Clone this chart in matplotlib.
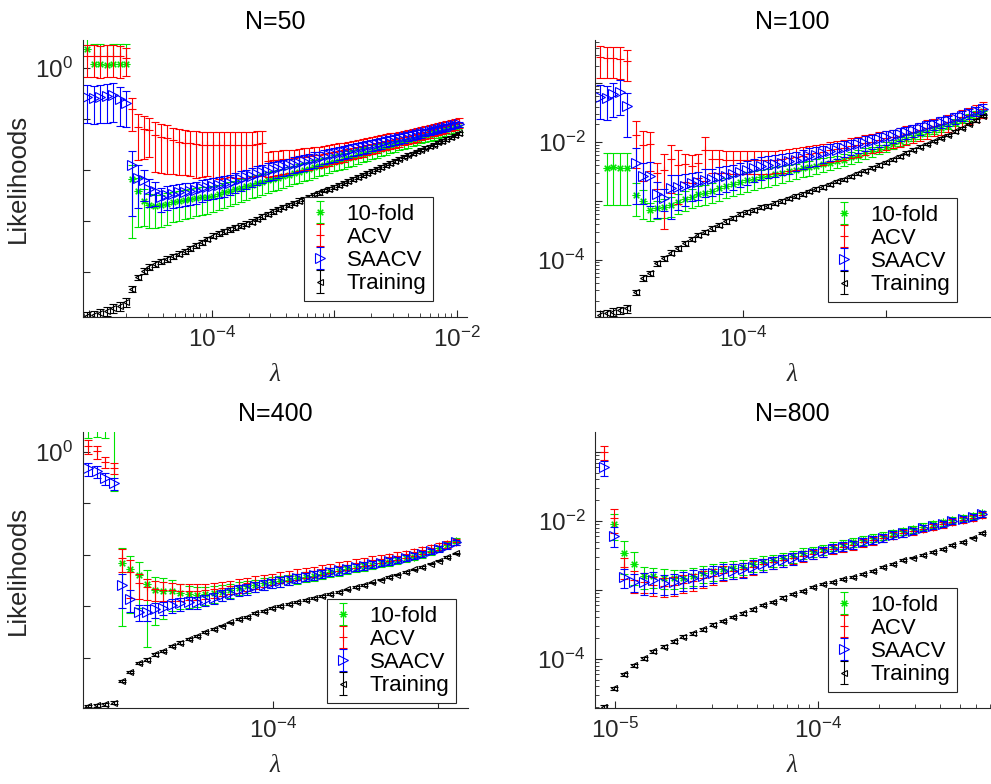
import numpy as np
import matplotlib
matplotlib.use("Agg")
import matplotlib.pyplot as plt
from matplotlib.ticker import LogLocator, NullLocator, NullFormatter

plt.rcParams['font.family'] = ['Liberation Sans', 'DejaVu Sans']
plt.rcParams['mathtext.fontset'] = 'custom'
plt.rcParams['mathtext.rm'] = 'Liberation Sans'
plt.rcParams['mathtext.it'] = 'Liberation Sans:italic'
plt.rcParams['mathtext.bf'] = 'Liberation Sans:bold'

nan = float('nan')
series_names = ['10-fold', 'ACV', 'SAACV', 'Training']
titles = ['N=50', 'N=100', 'N=400', 'N=800']

# ---------------- N=50 (all values are log10) ----------------
lam50_log10 = [-5.020, -4.967, -4.914, -4.861, -4.808, -4.755, -4.702, -4.657,
 -4.608, -4.559, -4.511, -4.462, -4.414, -4.366, -4.319, -4.271, -4.224, -4.176,
 -4.130, -4.084, -4.038, -3.991, -3.945, -3.900, -3.855, -3.810, -3.765, -3.720,
 -3.676, -3.633, -3.589, -3.545, -3.502, -3.459, -3.417, -3.375, -3.332, -3.290,
 -3.249, -3.208, -3.167, -3.126, -3.085, -3.045, -3.005, -2.965, -2.926, -2.886,
 -2.847, -2.809, -2.770, -2.732, -2.693, -2.656, -2.618, -2.581, -2.544, -2.506,
 -2.470, -2.434, -2.398, -2.362, -2.326, -2.291, -2.257, -2.222, -2.187, -2.153,
 -2.119, -2.086, -2.052, -2.019, -1.985]
kfold50 = [0.37, 0.07, 0.07, 0.06, 0.07, 0.07, 0.07, -2.18,
 -2.41, -2.60, -2.69, -2.70, -2.69, -2.66, -2.63, -2.61, -2.59, -2.57,
 -2.55, -2.53, -2.52, -2.50, -2.47, -2.44, -2.41, -2.38, -2.35, -2.32,
 -2.29, -2.26, -2.23, -2.20, -2.17, -2.15, -2.12, -2.09, -2.06, -2.03,
 -2.00, -1.98, -1.95, -1.92, -1.90, -1.87, -1.84, -1.82, -1.79, -1.76,
 -1.74, -1.71, -1.68, -1.66, -1.63, -1.61, -1.58, -1.56, -1.53, -1.51,
 -1.48, -1.46, -1.44, -1.41, -1.39, -1.36, -1.34, -1.32, -1.30, -1.27,
 -1.25, -1.23, -1.20, -1.18, -1.16]
kfold50_rel = [1.5, 1.5, 1.5, 1.5, 1.5, 1.5, 1.5, 0.93,
 0.80, 0.68, 0.65, 0.63, 0.62, 0.61, 0.60, 0.59, 0.58, 0.57,
 0.56, 0.55, 0.54, 0.53, 0.52, 0.51, 0.50, 0.49, 0.48, 0.47,
 0.46, 0.45, 0.45, 0.44, 0.43, 0.42, 0.41, 0.41, 0.40, 0.40,
 0.39, 0.38, 0.38, 0.37, 0.37, 0.36, 0.35, 0.35, 0.34, 0.34,
 0.33, 0.32, 0.32, 0.31, 0.31, 0.30, 0.29, 0.29, 0.28, 0.28,
 0.27, 0.26, 0.26, 0.25, 0.25, 0.24, 0.23, 0.23, 0.22, 0.22,
 0.21, 0.20, 0.20, 0.19, 0.19]
acv50 = [0.24, 0.24, 0.23, 0.24, 0.24, 0.23, 0.20, -0.80,
 -1.15, -1.19, -1.22, -1.31, -1.35, -1.37, -1.42, -1.45, -1.47, -1.48,
 -1.49, -1.50, -1.50, -1.51, -1.51, -1.51, -1.51, -1.51, -1.51, -1.50,
 -1.50, -1.49, -1.48, -1.82, -1.81, -1.80, -1.79, -1.78, -1.77, -1.75,
 -1.74, -1.73, -1.71, -1.70, -1.69, -1.67, -1.65, -1.63, -1.61, -1.59,
 -1.57, -1.55, -1.53, -1.51, -1.49, -1.47, -1.45, -1.43, -1.41, -1.39,
 -1.37, -1.35, -1.33, -1.31, -1.29, -1.27, -1.25, -1.22, -1.20, -1.18,
 -1.16, -1.14, -1.12, -1.09, -1.07]
acv50_rel = [0.62, 0.62, 0.62, 0.62, 0.62, 0.62, 0.57, 0.64,
 0.78, 0.75, 0.70, 0.81, 0.80, 0.80, 0.78, 0.77, 0.76, 0.77,
 0.78, 0.77, 0.76, 0.77, 0.78, 0.77, 0.76, 0.77, 0.77, 0.78,
 0.77, 0.76, 0.77, 0.51, 0.50, 0.50, 0.49, 0.48, 0.48, 0.47,
 0.46, 0.46, 0.45, 0.44, 0.44, 0.43, 0.42, 0.42, 0.41, 0.40,
 0.40, 0.39, 0.38, 0.37, 0.37, 0.36, 0.35, 0.35, 0.34, 0.33,
 0.33, 0.32, 0.31, 0.31, 0.30, 0.29, 0.29, 0.28, 0.27, 0.27,
 0.26, 0.25, 0.25, 0.24, 0.23]
saacv50 = [-0.56, -0.58, -0.56, -0.55, -0.53, -0.61, -0.68, -1.90,
 -2.15, -2.20, -2.37, -2.41, -2.53, -2.49, -2.47, -2.44, -2.43, -2.41,
 -2.39, -2.36, -2.33, -2.32, -2.30, -2.28, -2.25, -2.22, -2.18, -2.14,
 -2.11, -2.07, -2.04, -2.01, -1.98, -1.96, -1.93, -1.91, -1.88, -1.86,
 -1.83, -1.81, -1.78, -1.76, -1.73, -1.71, -1.69, -1.66, -1.64, -1.62,
 -1.59, -1.57, -1.55, -1.53, -1.51, -1.49, -1.47, -1.44, -1.42, -1.40,
 -1.38, -1.36, -1.34, -1.32, -1.30, -1.28, -1.26, -1.24, -1.22, -1.20,
 -1.18, -1.16, -1.14, -1.12, -1.10]
saacv50_rel = [0.70, 0.70, 0.70, 0.70, 0.70, 0.70, 0.66, 0.90,
 0.75, 0.60, 0.55, 0.50, 0.50, 0.49, 0.48, 0.48, 0.47, 0.46,
 0.46, 0.45, 0.45, 0.44, 0.44, 0.43, 0.43, 0.42, 0.42, 0.41,
 0.40, 0.39, 0.39, 0.38, 0.38, 0.37, 0.36, 0.36, 0.35, 0.35,
 0.34, 0.33, 0.33, 0.32, 0.31, 0.31, 0.30, 0.29, 0.29, 0.28,
 0.28, 0.27, 0.26, 0.26, 0.25, 0.24, 0.24, 0.23, 0.22, 0.22,
 0.21, 0.21, 0.20, 0.19, 0.19, 0.18, 0.17, 0.17, 0.16, 0.15,
 0.15, 0.14, 0.13, 0.13, 0.12]
train50 = [-4.86, -4.84, -4.80, -4.76, -4.71, -4.66, -4.58, -4.33,
 -4.10, -3.98, -3.90, -3.84, -3.79, -3.74, -3.69, -3.64, -3.59, -3.53,
 -3.47, -3.41, -3.35, -3.29, -3.24, -3.20, -3.16, -3.12, -3.09, -3.05,
 -3.01, -2.96, -2.91, -2.86, -2.81, -2.76, -2.72, -2.68, -2.64, -2.60,
 -2.56, -2.52, -2.48, -2.44, -2.40, -2.37, -2.33, -2.29, -2.25, -2.21,
 -2.17, -2.14, -2.10, -2.06, -2.02, -1.98, -1.94, -1.90, -1.86, -1.82,
 -1.78, -1.74, -1.70, -1.67, -1.63, -1.60, -1.56, -1.53, -1.50, -1.46,
 -1.43, -1.39, -1.36, -1.32, -1.28]
train50_rel = [0.20, 0.20, 0.20, 0.20, 0.20, 0.20, 0.20, 0.15,
 0.12, 0.12, 0.12, 0.12, 0.12, 0.12, 0.12, 0.12, 0.12, 0.12,
 0.11, 0.11, 0.11, 0.11, 0.11, 0.11, 0.11, 0.11, 0.11, 0.11,
 0.10, 0.10, 0.10, 0.10, 0.10, 0.10, 0.10, 0.10, 0.10, 0.10,
 0.09, 0.09, 0.09, 0.09, 0.09, 0.09, 0.09, 0.09, 0.09, 0.09,
 0.08, 0.08, 0.08, 0.08, 0.08, 0.08, 0.08, 0.08, 0.08, 0.08,
 0.07, 0.07, 0.07, 0.07, 0.07, 0.07, 0.07, 0.07, 0.07, 0.07,
 0.07, 0.07, 0.07, 0.07, 0.07]

# ---------------- N=100 ----------------
lam100_log10 = [-5.000, -4.953, -4.907, -4.860, -4.813,
 -4.748, -4.700, -4.651, -4.603, -4.554, -4.506, -4.457, -4.409, -4.360, -4.312,
 -4.263, -4.215, -4.166, -4.118, -4.069, -4.021, -3.972, -3.924, -3.875, -3.827,
 -3.778, -3.730, -3.681, -3.633, -3.584, -3.536, -3.487, -3.439, -3.390, -3.342,
 -3.293, -3.245, -3.196, -3.148, -3.099, -3.051, -3.002, -2.954, -2.905, -2.857,
 -2.808, -2.760, -2.711, -2.663, -2.614, -2.566, -2.517, -2.469, -2.420, -2.372,
 -2.323]
kfold100 = [nan, -2.44, -2.43, -2.44, -2.44,
 -2.90, -3.00, -3.16, -3.13, -3.10, -3.07, -3.02, -2.97, -2.93, -2.89,
 -2.87, -2.84, -2.79, -2.75, -2.71, -2.68, -2.65, -2.63, -2.60, -2.58,
 -2.55, -2.53, -2.50, -2.48, -2.45, -2.43, -2.40, -2.38, -2.35, -2.33,
 -2.30, -2.26, -2.23, -2.19, -2.16, -2.12, -2.08, -2.04, -1.99, -1.95,
 -1.91, -1.87, -1.83, -1.80, -1.76, -1.72, -1.67, -1.62, -1.58, -1.53,
 -1.48]
kfold100_rel = [0.77, 0.77, 0.77, 0.77, 0.77,
 0.57, 0.50, 0.35, 0.35, 0.37, 0.37, 0.37, 0.37, 0.37, 0.37,
 0.37, 0.37, 0.38, 0.38, 0.38, 0.38, 0.37, 0.36, 0.35, 0.34,
 0.33, 0.32, 0.31, 0.30, 0.29, 0.28, 0.27, 0.26, 0.25, 0.24,
 0.23, 0.22, 0.22, 0.21, 0.20, 0.19, 0.18, 0.18, 0.17, 0.16,
 0.16, 0.15, 0.15, 0.14, 0.14, 0.13, 0.13, 0.12, 0.12, 0.12,
 0.12]
acv100 = [-0.56, -0.57, -0.57, -0.58, -0.63,
 -1.88, -2.05, -2.04, -2.53, -2.48, -2.29, -2.39, -2.38, -2.40, -2.36,
 -2.14, -2.29, -2.29, -2.30, -2.30, -2.30, -2.31, -2.31, -2.31, -2.31,
 -2.30, -2.29, -2.27, -2.25, -2.23, -2.21, -2.19, -2.17, -2.14, -2.12,
 -2.10, -2.07, -2.05, -2.02, -2.00, -1.97, -1.94, -1.92, -1.89, -1.86,
 -1.83, -1.80, -1.76, -1.73, -1.70, -1.66, -1.62, -1.58, -1.54, -1.49,
 -1.43]
acv100_rel = [0.55, 0.55, 0.55, 0.55, 0.54,
 0.73, 0.76, 0.65, 0.47, 0.90, 0.74, 0.78, 0.50, 0.50, 0.45,
 0.70, 0.41, 0.42, 0.41, 0.42, 0.43, 0.42, 0.41, 0.42, 0.41,
 0.40, 0.41, 0.40, 0.40, 0.40, 0.39, 0.39, 0.39, 0.38, 0.38,
 0.38, 0.37, 0.37, 0.37, 0.36, 0.36, 0.36, 0.35, 0.35, 0.35,
 0.34, 0.34, 0.34, 0.33, 0.33, 0.33, 0.32, 0.32, 0.31, 0.31,
 0.30]
saacv100 = [-1.23, -1.25, -1.19, -1.15, -1.39,
 -2.36, -2.58, -2.57, -2.89, -2.95, -2.79, -2.76, -2.74, -2.70, -2.68,
 -2.64, -2.63, -2.60, -2.57, -2.55, -2.51, -2.48, -2.44, -2.41, -2.39,
 -2.37, -2.35, -2.33, -2.30, -2.27, -2.24, -2.22, -2.19, -2.16, -2.13,
 -2.10, -2.07, -2.04, -2.01, -1.98, -1.95, -1.92, -1.89, -1.86, -1.83,
 -1.80, -1.77, -1.73, -1.70, -1.66, -1.63, -1.59, -1.55, -1.51, -1.47,
 -1.43]
saacv100_rel = [0.58, 0.58, 0.58, 0.60, 0.70,
 0.80, 0.67, 0.70, 0.60, 0.40, 0.70, 0.60, 0.55, 0.50, 0.50,
 0.50, 0.49, 0.48, 0.47, 0.46, 0.45, 0.44, 0.43, 0.42, 0.41,
 0.40, 0.39, 0.38, 0.37, 0.36, 0.35, 0.34, 0.33, 0.32, 0.31,
 0.30, 0.29, 0.29, 0.28, 0.27, 0.26, 0.26, 0.25, 0.24, 0.24,
 0.23, 0.22, 0.22, 0.21, 0.21, 0.20, 0.20, 0.19, 0.19, 0.18,
 0.18]
train100 = [-4.94, -4.91, -4.89, -4.86, -4.83,
 -4.55, -4.31, -4.23, -4.06, -3.98, -3.88, -3.81, -3.72, -3.65, -3.58,
 -3.53, -3.47, -3.41, -3.35, -3.29, -3.23, -3.19, -3.15, -3.11, -3.08,
 -3.04, -3.00, -2.96, -2.92, -2.88, -2.84, -2.80, -2.76, -2.72, -2.67,
 -2.63, -2.58, -2.53, -2.49, -2.44, -2.39, -2.34, -2.29, -2.24, -2.18,
 -2.13, -2.08, -2.03, -1.98, -1.93, -1.88, -1.82, -1.76, -1.69, -1.63,
 -1.56]
train100_rel = [0.15, 0.15, 0.15, 0.15, 0.15,
 0.10, 0.10, 0.10, 0.09, 0.09, 0.09, 0.09, 0.09, 0.09, 0.09,
 0.08, 0.08, 0.08, 0.08, 0.08, 0.08, 0.08, 0.08, 0.08, 0.08,
 0.07, 0.07, 0.07, 0.07, 0.07, 0.07, 0.07, 0.07, 0.07, 0.07,
 0.06, 0.06, 0.06, 0.06, 0.06, 0.06, 0.06, 0.06, 0.06, 0.06,
 0.05, 0.05, 0.05, 0.05, 0.05, 0.05, 0.05, 0.05, 0.05, 0.05,
 0.05]

# ---------------- N=400 ----------------
lam400_log10 = [-5.119, -5.068, -5.018, -4.967, -4.917, -4.866, -4.815, -4.765, -4.714, -4.664,
 -4.613, -4.562, -4.512, -4.461, -4.411, -4.360, -4.309, -4.259, -4.208, -4.158,
 -4.107, -4.056, -4.006, -3.955, -3.905, -3.854, -3.803, -3.753, -3.702, -3.652,
 -3.601, -3.550, -3.500, -3.449, -3.399, -3.348, -3.297, -3.247, -3.196, -3.146,
 -3.095, -3.044, -2.994, -2.943, -2.893]
kfold400 = [0.55, 0.56, 0.55, 0.55,
 -2.16, -2.28, -2.38, -2.57, -2.68, -2.69, -2.69, -2.74, -2.76, -2.78,
 -2.76, -2.74, -2.71, -2.68, -2.64, -2.61, -2.58, -2.55, -2.53, -2.50,
 -2.48, -2.45, -2.42, -2.40, -2.37, -2.34, -2.31, -2.28, -2.25, -2.22,
 -2.19, -2.16, -2.13, -2.10, -2.06, -2.03, -1.99, -1.93, -1.87, -1.80, -1.72]
kfold400_rel = [0.47, 0.47, 0.47, 0.95,
 0.94, 0.86, 0.78, 0.94, 0.79, 0.72, 0.60, 0.50, 0.45, 0.42,
 0.38, 0.35, 0.33, 0.30, 0.28, 0.27, 0.26, 0.25, 0.24, 0.23,
 0.22, 0.22, 0.21, 0.21, 0.20, 0.20, 0.19, 0.19, 0.18, 0.18,
 0.17, 0.17, 0.16, 0.16, 0.15, 0.15, 0.14, 0.14, 0.13, 0.13, 0.12]
acv400 = [0.12, 0.01, -0.19, -0.31,
 -2.05, -2.33, -2.55, -2.62, -2.66, -2.68, -2.68, -2.69, -2.69, -2.69,
 -2.68, -2.66, -2.64, -2.61, -2.58, -2.55, -2.52, -2.49, -2.46, -2.43,
 -2.40, -2.37, -2.34, -2.31, -2.28, -2.25, -2.22, -2.19, -2.16, -2.13,
 -2.10, -2.07, -2.04, -2.01, -1.98, -1.95, -1.91, -1.87, -1.83, -1.79, -1.74]
acv400_rel = [0.30, 0.28, 0.25, 0.25,
 0.47, 0.69, 0.50, 0.45, 0.42, 0.40, 0.38, 0.36, 0.35, 0.34,
 0.33, 0.32, 0.31, 0.30, 0.29, 0.28, 0.27, 0.26, 0.25, 0.24,
 0.23, 0.23, 0.22, 0.22, 0.21, 0.21, 0.20, 0.20, 0.19, 0.19,
 0.18, 0.18, 0.17, 0.17, 0.16, 0.16, 0.15, 0.15, 0.14, 0.14, 0.13]
saacv400 = [-0.32, -0.37, -0.51, -0.61,
 -2.58, -2.85, -3.10, -3.10, -3.05, -3.02, -2.97, -2.94, -2.92, -2.91,
 -2.87, -2.83, -2.78, -2.74, -2.68, -2.66, -2.61, -2.58, -2.54, -2.51,
 -2.48, -2.45, -2.42, -2.39, -2.36, -2.33, -2.30, -2.27, -2.24, -2.21,
 -2.18, -2.15, -2.12, -2.09, -2.05, -2.02, -1.98, -1.93, -1.88, -1.82, -1.75]
saacv400_rel = [0.27, 0.27, 0.27, 0.26,
 0.64, 0.45, 0.33, 0.33, 0.33, 0.30, 0.30, 0.28, 0.27, 0.26,
 0.25, 0.25, 0.24, 0.24, 0.23, 0.23, 0.22, 0.22, 0.21, 0.21,
 0.20, 0.20, 0.19, 0.19, 0.18, 0.18, 0.17, 0.17, 0.16, 0.16,
 0.15, 0.15, 0.15, 0.14, 0.14, 0.14, 0.13, 0.13, 0.13, 0.12, 0.12]
train400 = [-4.93, -4.92, -4.90, -4.87,
 -4.45, -4.27, -4.10, -4.03, -3.93, -3.86, -3.76, -3.70, -3.63, -3.57,
 -3.49, -3.44, -3.37, -3.31, -3.24, -3.20, -3.13, -3.09, -3.03, -2.99,
 -2.95, -2.91, -2.87, -2.83, -2.79, -2.76, -2.72, -2.67, -2.62, -2.58,
 -2.53, -2.48, -2.43, -2.38, -2.33, -2.28, -2.23, -2.17, -2.11, -2.04, -1.97]
train400_rel = [0.06, 0.06, 0.06, 0.06,
 0.05, 0.05, 0.05, 0.05, 0.05, 0.05, 0.05, 0.05, 0.05, 0.05,
 0.04, 0.04, 0.04, 0.04, 0.04, 0.04, 0.04, 0.04, 0.04, 0.04,
 0.04, 0.04, 0.04, 0.04, 0.04, 0.04, 0.04, 0.04, 0.04, 0.04,
 0.03, 0.03, 0.03, 0.03, 0.03, 0.03, 0.03, 0.03, 0.03, 0.03, 0.03]

# ---------------- N=800 ----------------
lam800_log10 = [-5.056, -5.007, -4.958, -4.909, -4.860, -4.811, -4.761, -4.712, -4.663, -4.614,
 -4.565, -4.516, -4.467, -4.418, -4.369, -4.320, -4.270, -4.221, -4.172, -4.123,
 -4.074, -4.025, -3.976, -3.927, -3.878, -3.829, -3.779, -3.730, -3.681, -3.632,
 -3.583, -3.534, -3.485, -3.436, -3.387, -3.338, -3.288, -3.239, -3.190]
kfold800 = [nan, -2.05, -2.47, -2.63, -2.80, -2.80, -2.82, -2.83, -2.82, -2.79,
 -2.76, -2.73, -2.70, -2.68, -2.66, -2.63, -2.60, -2.57, -2.54, -2.51,
 -2.47, -2.44, -2.41, -2.37, -2.34, -2.31, -2.28, -2.24, -2.21, -2.18,
 -2.15, -2.12, -2.08, -2.05, -2.02, -1.99, -1.96, -1.93, -1.89]
kfold800_rel = [0.30, 0.40, 0.50, 0.50, 0.35, 0.33, 0.32, 0.31, 0.30, 0.29,
 0.28, 0.27, 0.26, 0.25, 0.24, 0.23, 0.22, 0.21, 0.20, 0.19,
 0.18, 0.17, 0.16, 0.15, 0.15, 0.14, 0.14, 0.13, 0.13, 0.12,
 0.12, 0.11, 0.11, 0.11, 0.10, 0.10, 0.10, 0.10, 0.10]
acv800 = [-1.00, -1.96, -2.66, -2.85, -2.88, -2.93, -2.94, -2.93, -2.90, -2.87,
 -2.83, -2.79, -2.75, -2.72, -2.70, -2.67, -2.63, -2.60, -2.57, -2.54,
 -2.51, -2.48, -2.45, -2.41, -2.38, -2.35, -2.31, -2.28, -2.25, -2.21,
 -2.18, -2.15, -2.11, -2.08, -2.05, -2.01, -1.98, -1.95, -1.91]
acv800_rel = [0.23, 0.38, 0.35, 0.35, 0.32, 0.31, 0.30, 0.30, 0.29, 0.28,
 0.27, 0.26, 0.25, 0.24, 0.23, 0.22, 0.21, 0.20, 0.19, 0.18,
 0.17, 0.16, 0.15, 0.15, 0.14, 0.14, 0.13, 0.13, 0.12, 0.12,
 0.11, 0.11, 0.11, 0.10, 0.10, 0.10, 0.10, 0.10, 0.10]
saacv800 = [-1.22, -2.21, -2.81, -2.88, -2.88, -2.86, -2.90, -2.89, -2.86, -2.82,
 -2.80, -2.76, -2.73, -2.72, -2.70, -2.66, -2.63, -2.60, -2.57, -2.54,
 -2.50, -2.47, -2.44, -2.40, -2.37, -2.34, -2.30, -2.27, -2.24, -2.20,
 -2.17, -2.14, -2.10, -2.07, -2.04, -2.00, -1.97, -1.94, -1.90]
saacv800_rel = [0.25, 0.32, 0.30, 0.30, 0.35, 0.34, 0.33, 0.32, 0.30, 0.29,
 0.28, 0.27, 0.26, 0.25, 0.24, 0.23, 0.22, 0.21, 0.20, 0.19,
 0.18, 0.17, 0.16, 0.15, 0.15, 0.14, 0.14, 0.13, 0.13, 0.12,
 0.12, 0.11, 0.11, 0.11, 0.10, 0.10, 0.10, 0.10, 0.10]
train800 = [-4.69, -4.42, -4.22, -4.09, -3.99, -3.89, -3.82, -3.74, -3.68, -3.63,
 -3.57, -3.50, -3.45, -3.39, -3.34, -3.28, -3.22, -3.17, -3.11, -3.06,
 -3.01, -2.96, -2.91, -2.88, -2.84, -2.81, -2.77, -2.72, -2.67, -2.62,
 -2.57, -2.53, -2.49, -2.45, -2.40, -2.35, -2.30, -2.24, -2.17]
train800_rel = [0.05, 0.05, 0.05, 0.05, 0.05, 0.05, 0.05, 0.05, 0.05, 0.05,
 0.04, 0.04, 0.04, 0.04, 0.04, 0.04, 0.04, 0.04, 0.04, 0.04,
 0.04, 0.04, 0.04, 0.04, 0.04, 0.04, 0.04, 0.04, 0.04, 0.04,
 0.03, 0.03, 0.03, 0.03, 0.03, 0.03, 0.03, 0.03, 0.03]

# ---------------- styling ----------------
styles = [
    dict(color='#00e400', marker=(8, 2, 0), ms=5.5, mfc='#00e400'),
    dict(color='#ff0000', marker='+', ms=6, mfc='#ff0000'),
    dict(color='#0000ff', marker='>', ms=6.5, mfc='none'),
    dict(color='#000000', marker='<', ms=5, mfc='none'),
]
AX_COLOR = '#262626'
EB = dict(elinewidth=0.8, capsize=3, capthick=0.8)

panels = [
    dict(pos=[83, 40, 467, 317], lam=lam50_log10,
         data=[(kfold50, kfold50_rel), (acv50, acv50_rel), (saacv50, saacv50_rel), (train50, train50_rel)],
         xlim=(-5.053, -1.918), ylim=(-4.882, 0.549),
         xt=[-5, -4, -3, -2], xl=['', '$10^{-4}$', '', '$10^{-2}$'],
         yt=[-4, -3, -2, -1, 0], yl=['', '', '', '', '$10^{0}$'],
         xminor=True, yminor=False, ylabel=True, leg=(433, 301)),
    dict(pos=[595, 40, 990, 317], lam=lam100_log10,
         data=[(kfold100, kfold100_rel), (acv100, acv100_rel), (saacv100, saacv100_rel), (train100, train100_rel)],
         xlim=(-5.035, -2.273), ylim=(-4.976, -0.265),
         xt=[-5, -4, -3], xl=['', '$10^{-4}$', ''],
         yt=[-4, -3, -2, -1], yl=['$10^{-4}$', '', '$10^{-2}$', ''],
         xminor=False, yminor=True, ylabel=False, leg=(957, 302)),
    dict(pos=[83, 432, 468, 708], lam=lam400_log10,
         data=[(kfold400, kfold400_rel), (acv400, acv400_rel), (saacv400, saacv400_rel), (train400, train400_rel)],
         xlim=(-5.152, -2.818), ylim=(-4.971, 0.388),
         xt=[-5, -4, -3], xl=['', '$10^{-4}$', ''],
         yt=[-4, -3, -2, -1, 0], yl=['', '', '', '', '$10^{0}$'],
         xminor=False, yminor=False, ylabel=True, leg=(456, 703)),
    dict(pos=[595, 432, 990, 708], lam=lam800_log10,
         data=[(kfold800, kfold800_rel), (acv800, acv800_rel), (saacv800, saacv800_rel), (train800, train800_rel)],
         xlim=(-5.099, -3.153), ylim=(-4.71, -0.71),
         xt=[-5, -4], xl=['$10^{-5}$', '$10^{-4}$'],
         yt=[-4, -3, -2, -1], yl=['$10^{-4}$', '', '$10^{-2}$', ''],
         xminor=True, yminor=True, ylabel=False, leg=(957, 692)),
]

W, H = 991, 784
fig = plt.figure(figsize=(W / 100, H / 100), dpi=100)

for p, title in zip(panels, titles):
    x0, y0, x1, y1 = p['pos']
    ax = fig.add_axes([x0 / W, 1 - y1 / H, (x1 - x0) / W, (y1 - y0) / H])
    ax.set_xscale('log')
    ax.set_yscale('log')
    lam = 10 ** np.asarray(p['lam'], float)
    for (vals, rel), st in zip(p['data'], styles):
        v = np.asarray(vals, float)
        r = np.asarray(rel, float)
        ok = ~np.isnan(v)
        m = 10 ** v
        full = ok & (r < 1)
        half = ok & (r >= 1)
        if full.any():
            ax.errorbar(lam[full], m[full], yerr=r[full] * m[full], fmt='none',
                        ecolor=st['color'], **EB)
        if half.any():
            # lower bound would be negative: only the upper half is drawn
            _, caps, _ = ax.errorbar(lam[half], m[half],
                                     yerr=[np.zeros(half.sum()), r[half] * m[half]],
                                     fmt='none', ecolor=st['color'], **EB)
            if len(caps) == 2:
                caps[0].set_visible(False)
        ax.plot(lam[ok], m[ok], linestyle='none', marker=st['marker'], ms=st['ms'],
                mfc=st['mfc'], mec=st['color'], mew=0.8, color=st['color'])
    ax.set_xlim(10 ** p['xlim'][0], 10 ** p['xlim'][1])
    ax.set_ylim(10 ** p['ylim'][0], 10 ** p['ylim'][1])

    ax.set_xticks([10.0 ** t for t in p['xt']])
    ax.set_xticklabels(p['xl'])
    ax.set_yticks([10.0 ** t for t in p['yt']])
    ax.set_yticklabels(p['yl'])
    if p['xminor']:
        ax.xaxis.set_minor_locator(LogLocator(base=10, subs=np.arange(2, 10)))
    else:
        ax.xaxis.set_minor_locator(NullLocator())
    if p['yminor']:
        ax.yaxis.set_minor_locator(LogLocator(base=10, subs=np.arange(2, 10)))
    else:
        ax.yaxis.set_minor_locator(NullLocator())
    ax.xaxis.set_minor_formatter(NullFormatter())
    ax.yaxis.set_minor_formatter(NullFormatter())

    for s in ['top', 'right']:
        ax.spines[s].set_visible(False)
    for s in ['left', 'bottom']:
        ax.spines[s].set_color(AX_COLOR)
        ax.spines[s].set_linewidth(0.8)
    ax.tick_params(which='major', direction='in', length=5, width=0.8,
                   colors=AX_COLOR, labelsize=17.5, pad=7)
    ax.tick_params(which='minor', direction='in', length=3, width=0.6, colors=AX_COLOR)

    ax.set_title(title, fontsize=18, pad=8, color='#000000')
    ax.set_xlabel('λ', fontsize=18, fontstyle='italic', family=['Liberation Serif', 'DejaVu Serif'],
                  labelpad=9, color=AX_COLOR)
    if p['ylabel']:
        ax.set_ylabel('Likelihoods', fontsize=18.5, labelpad=4, color=AX_COLOR)

    leg_handles = []
    for st in styles:
        cont = ax.errorbar([np.nan], [np.nan], yerr=[[1], [1]], linestyle='none',
                           marker=st['marker'], ms=st['ms'], mfc=st['mfc'], mec=st['color'],
                           mew=0.8, color=st['color'], ecolor=st['color'], **EB)
        leg_handles.append(cont)
    lx, ly = p['leg']
    leg = ax.legend(leg_handles, series_names, loc='lower right',
                    bbox_to_anchor=(lx / W, 1 - ly / H), bbox_transform=fig.transFigure,
                    fontsize=16, frameon=True, fancybox=False, framealpha=1,
                    borderpad=0.3, labelspacing=0.1, handlelength=0.8,
                    handletextpad=0.8, borderaxespad=0.0)
    leg.get_frame().set_edgecolor(AX_COLOR)
    leg.get_frame().set_linewidth(0.8)

fig.savefig('out.png', dpi=100)
